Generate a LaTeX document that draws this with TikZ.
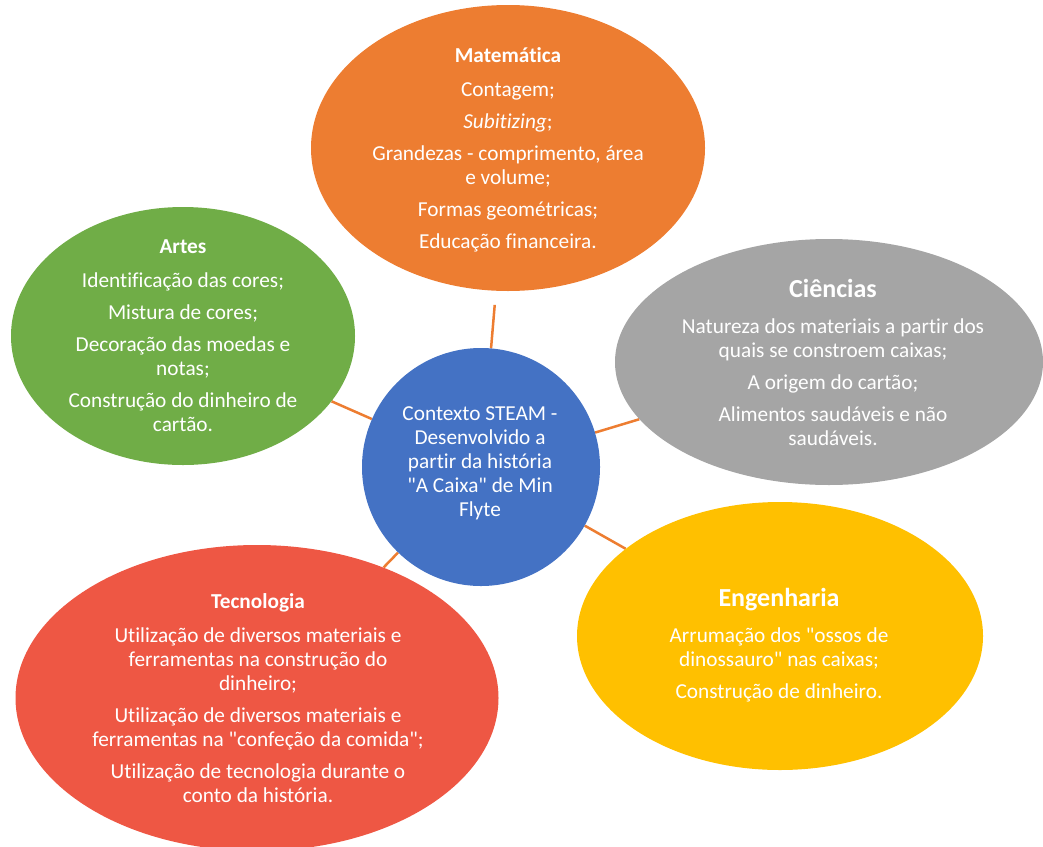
\documentclass[tikz,border=0pt]{standalone}
\usepackage{fontspec}
\setmainfont{Carlito}[Ligatures={TeXOff,CommonOff}]
\usetikzlibrary{shapes.geometric,backgrounds}
\definecolor{corange}{HTML}{ED7D31}
\definecolor{cgreen}{HTML}{70AD47}
\definecolor{cgray}{HTML}{A5A5A5}
\definecolor{cblue}{HTML}{4472C4}
\definecolor{cyellow}{HTML}{FFC000}
\definecolor{cred}{HTML}{EE5744}
\begin{document}
\begin{tikzpicture}[x=1pt,y=-1pt,
  blob/.style={ellipse, inner sep=0pt, draw=none},
  lbl/.style={text=white, align=center, font=\fontsize{21.3}{24}\selectfont, inner sep=0pt},
  conn/.style={draw=corange, line width=2.5pt}]
\useasboundingbox (0,0) rectangle (1043,846);
\clip (0,0) rectangle (1043,846);
% shapes
\node[blob, fill=corange, minimum width=394pt, minimum height=286pt] (mat) at (508,148) {};
\node[blob, fill=cgreen, minimum width=344pt, minimum height=258pt] (art) at (183,336) {};
\node[blob, fill=cgray, minimum width=428pt, minimum height=246pt] (cie) at (829,362) {};
\node[blob, fill=cred, minimum width=483pt, minimum height=306pt] (tec) at (257,698) {};
\node[blob, fill=cyellow, minimum width=406pt, minimum height=268pt] (eng) at (780,636) {};
\node[circle, fill=cblue, inner sep=0pt, minimum size=238pt] (ctr) at (481,467) {};
% connectors
\begin{scope}[on background layer]
\draw[conn, shorten >=14pt] (ctr) -- (mat);
\draw[conn] (ctr) -- (art);
\draw[conn] (ctr) -- (cie);
\draw[conn] (ctr) -- (eng);
\draw[conn] (ctr) -- (tec);
\end{scope}
% texts
\node[lbl] (matT) at (508,150) {\textbf{Matemática}\\[10pt]
  Contagem;\\[8pt]
  \textit{Subitizing};\\[8pt]
  Grandezas - comprimento, área\\ e volume;\\[8pt]
  Formas geométricas;\\[8pt]
  Educação financeira.};
\node[lbl] (artT) at (183,336) {\textbf{Artes}\\[10pt]
  Identificação das cores;\\[8pt]
  Mistura de cores;\\[8pt]
  Decoração das moedas e\\ notas;\\[8pt]
  Construção do dinheiro de\\ cartão.};
\node[lbl] (cieT) at (833,362) {{\fontsize{26}{30}\selectfont\bfseries Ciências}\\[12pt]
  Natureza dos materiais a partir dos\\ quais se constroem caixas;\\[8pt]
  A origem do cartão;\\[8pt]
  Alimentos saudáveis e não\\ saudáveis.};
\node[lbl] (ctrT) at (480,463) {Contexto STEAM -\\ Desenvolvido a\\ partir da história\\ "A Caixa" de Min\\ Flyte};
\node[lbl] (tecT) at (258,698) {\textbf{Tecnologia}\\[10pt]
  Utilização de diversos materiais e\\ ferramentas na construção do\\ dinheiro;\\[8pt]
  Utilização de diversos materiais e\\ ferramentas na "confeção da comida";\\[8pt]
  Utilização de tecnologia durante o\\ conto da história.};
\node[lbl] (engT) at (779,645) {{\fontsize{26}{30}\selectfont\bfseries Engenharia}\\[12pt]
  Arrumação dos "ossos de\\ dinossauro" nas caixas;\\[8pt]
  Construção de dinheiro.};
\end{tikzpicture}
\end{document}
